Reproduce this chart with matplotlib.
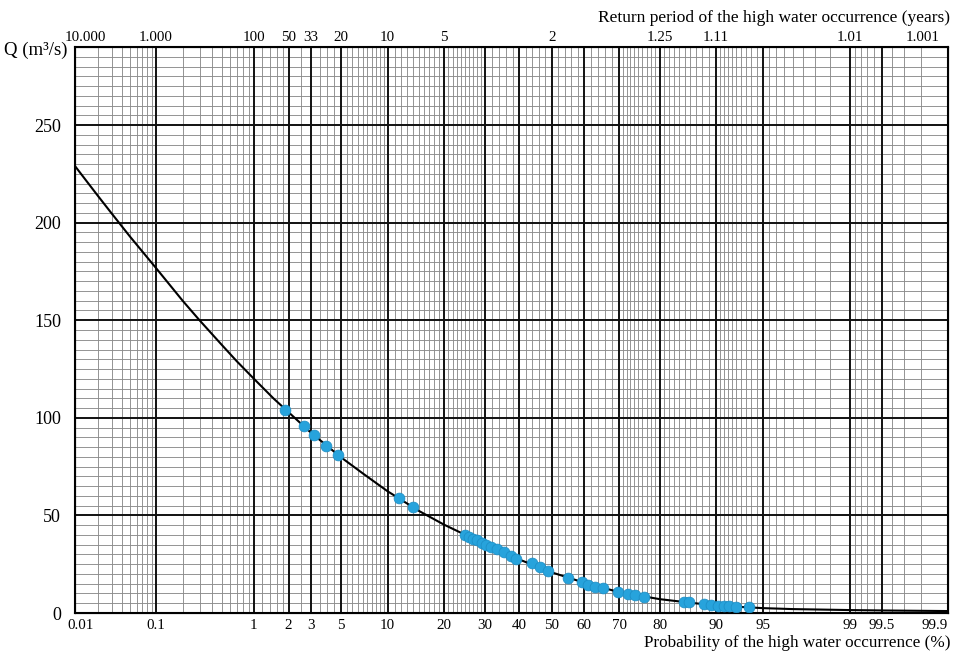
import matplotlib
matplotlib.use("Agg")
import matplotlib.pyplot as plt
import matplotlib.transforms as mtransforms
import numpy as np
from statistics import NormalDist

# observed high water (probability %, discharge m3/s)
prob_pts = [1.87, 2.64, 3.19, 3.94, 4.76, 11.6, 13.9,
            24.9, 25.9, 27.0, 28.0, 29.4, 30.4, 31.8, 33.5, 35.6, 37.6, 39.1,
            43.8, 46.2, 48.8, 55.0, 59.3, 61.1, 63.3, 65.6, 69.8, 72.5, 74.3, 76.3,
            84.9, 85.8, 88.3, 89.3, 90.3, 91.1, 91.7, 92.5, 93.8]
q_pts = [104.2, 95.6, 91.0, 85.6, 80.8, 58.8, 54.5,
         39.9, 38.9, 37.8, 37.3, 35.8, 34.8, 33.7, 32.7, 31.2, 29.1, 27.6,
         25.6, 23.5, 21.5, 17.9, 15.8, 14.3, 13.3, 12.8, 10.7, 9.7, 9.2, 8.2,
         5.6, 5.6, 4.6, 4.1, 3.6, 3.6, 3.6, 3.1, 3.1]

# fitted curve
curve_p = [0.01, 0.02, 0.03, 0.05, 0.1, 0.2, 0.3, 0.5, 0.7, 1, 1.5, 2, 3, 5, 7,
           10, 15, 20, 30, 40, 50, 60, 70, 80, 85, 90, 95, 97, 99, 99.5, 99.9]
curve_q = [229, 213.7, 204.6, 192.9, 177.0, 159.9, 150.0, 137.5, 129.0, 120.2,
           109.9, 102.9, 92.5, 79.8, 71.6, 62.4, 52.3, 45.3, 35.3, 27.4, 20.8,
           15.5, 10.7, 7.1, 5.6, 3.8, 2.5, 2.0, 1.5, 1.3, 1.0]

bottom_ticks = [0.01, 0.1, 1, 2, 3, 5, 10, 20, 30, 40, 50, 60, 70, 80, 90, 95, 99, 99.5, 99.9]
bottom_labels = ['0.01', '0.1', '1', '2', '3', '5', '10', '20', '30', '40', '50',
                 '60', '70', '80', '90', '95', '99', '99.5', '99.9']
top_ticks = [0.01, 0.1, 1, 2, 3, 5, 10, 20, 50, 80, 90, 99, 99.9]
top_labels = ['10.000', '1.000', '100', '50', '33', '20', '10', '5', '2',
              '1.25', '1.11', '1.01', '1.001']
y_ticks = [0, 50, 100, 150, 200, 250]

plt.rcParams['font.family'] = ['Liberation Serif', 'DejaVu Serif']

nd = NormalDist()
_ppf = np.vectorize(lambda v: nd.inv_cdf(v / 100.0), otypes=[float])
_cdf = np.vectorize(lambda z: nd.cdf(z) * 100.0, otypes=[float])


def fwd(p):
    p = np.clip(np.asarray(p, dtype=float), 1e-7, 100 - 1e-7)
    return _ppf(p)


def inv(z):
    return _cdf(np.asarray(z, dtype=float))


fig = plt.figure(figsize=(9.56, 6.54), dpi=100)
ax = fig.add_axes([75 / 956, 41 / 654, 873 / 956, 566 / 654])
ax.set_xscale('function', functions=(fwd, inv))
ax.set_xlim(0.01, 99.9)
ax.set_ylim(0, 290)

# probability paper grid
minor_x = np.concatenate([
    np.arange(0.02, 0.095, 0.01), np.arange(0.2, 0.95, 0.1),
    [1.2, 1.4, 1.6, 1.8, 2.5, 3.5, 4, 4.5], np.arange(5.5, 10, 0.5),
    [v for v in range(11, 30) if v != 20],
    [v for v in range(32, 70, 2) if v % 10 != 0],
    [v for v in range(71, 90) if v != 80],
    np.arange(90.5, 95, 0.5), np.arange(95.5, 99, 0.5),
    np.arange(99.1, 99.45, 0.1), np.arange(99.6, 99.85, 0.1)])
for v in minor_x:
    ax.axvline(v, color='#8c8c8c', lw=0.65, zorder=1)
for v in bottom_ticks[1:-1]:
    ax.axvline(v, color='#111111', lw=1.4, zorder=2)
for v in range(5, 290, 5):
    if v % 50:
        ax.axhline(v, color='#8c8c8c', lw=0.65, zorder=1)
    else:
        ax.axhline(v, color='#111111', lw=1.4, zorder=2)

ax.plot(curve_p, curve_q, color='black', lw=1.5, zorder=3)
ax.plot(prob_pts, q_pts, 'o', color='#27a3dc', mec='#1b8cc4', mew=0.5, ms=7.8, zorder=4)

ax.set_xticks(bottom_ticks)
ax.set_xticklabels(bottom_labels, fontsize=10.8)
ax.set_yticks(y_ticks)
ax.set_yticklabels([str(v) for v in y_ticks], fontsize=13)
ax.tick_params(axis='x', length=0, pad=4)
ax.tick_params(axis='y', length=0, pad=10)
ax.minorticks_off()
for s in ax.spines.values():
    s.set_linewidth(1.5)

ax2 = ax.twiny()
ax2.set_xscale('function', functions=(fwd, inv))
ax2.set_xlim(0.01, 99.9)
ax2.set_xticks(top_ticks)
ax2.set_xticklabels(top_labels, fontsize=10.8)
ax2.tick_params(axis='x', length=0, pad=2)
ax2.minorticks_off()

def shift(label, dx):
    off = mtransforms.ScaledTranslation(dx / 100.0, 0, fig.dpi_scale_trans)
    label.set_transform(label.get_transform() + off)

bl = ax.get_xticklabels()
shift(bl[0], 6)
shift(bl[-1], -13)
tl = ax2.get_xticklabels()
shift(tl[0], 10)
shift(tl[-1], -25)

fig.text(950 / 956, 1 - 18 / 654, 'Return period of the high water occurrence (years)',
         ha='right', va='center', fontsize=12.5)
fig.text(950 / 956, 1 - 643 / 654, 'Probability of the high water occurrence (%)',
         ha='right', va='center', fontsize=12.3)
fig.text(68 / 956, 1 - 50 / 654, 'Q (m³/s)', ha='right', va='center', fontsize=13.5)

fig.savefig('out.png', dpi=100)
